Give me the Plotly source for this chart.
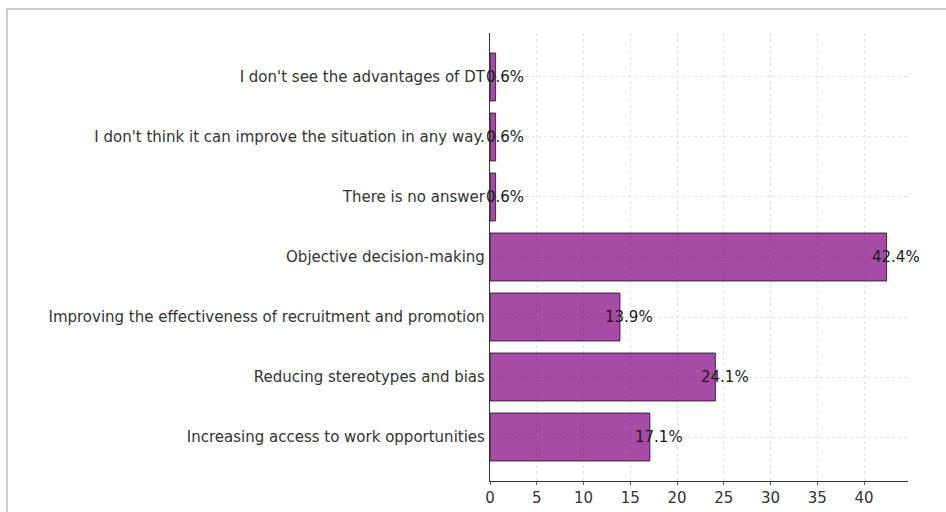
import plotly.graph_objects as go

categories = [
    "Increasing access to work opportunities",
    "Reducing stereotypes and bias",
    "Improving the effectiveness of recruitment and promotion",
    "Objective decision-making",
    "There is no answer",
    "I don't think it can improve the situation in any way.",
    "I don't see the advantages of DT",
]
values = [17.1, 24.1, 13.9, 42.4, 0.6, 0.6, 0.6]
x_ticks = [0, 5, 10, 15, 20, 25, 30, 35, 40]

FONT = "DejaVu Sans"

fig = go.Figure()
fig.add_trace(go.Bar(
    x=values,
    y=categories,
    orientation="h",
    width=0.8,
    marker=dict(color="rgba(128,0,128,0.7)",
                line=dict(color="rgba(0,0,0,0.7)", width=1)),
    hoverinfo="skip",
))

for v, c in zip(values, categories):
    fig.add_annotation(
        x=v + 1, y=c, text=f"{v}%", showarrow=False,
        xanchor="center", yanchor="middle",
        font=dict(family=FONT, size=15, color="#1a1a1a"),
    )

# outer frame
fig.add_shape(type="rect", xref="paper", yref="paper",
              x0=-1.1555, x1=1.2, y0=-0.2, y1=1.0536,
              line=dict(color="#bdbdbd", width=1.5), layer="below")

fig.update_layout(
    width=946, height=512,
    margin=dict(l=490, r=38, t=33, b=31, autoexpand=False),
    paper_bgcolor="white", plot_bgcolor="white",
    showlegend=False,
    font=dict(family=FONT, size=15, color="#333333"),
    bargap=0.2,
)
fig.update_xaxes(
    range=[0, 44.7],
    tickvals=x_ticks,
    automargin=False,
    showgrid=True, gridcolor="#e2e2e2", griddash="3px,3px", gridwidth=1,
    showline=True, linecolor="#333333", linewidth=1.2,
    ticks="outside", ticklen=3, tickcolor="#555555",
    tickfont=dict(family=FONT, size=15, color="#333333"),
    zeroline=False,
)
fig.update_yaxes(
    range=[-0.733, 6.733],
    automargin=False,
    showgrid=True, gridcolor="#e2e2e2", griddash="3px,3px", gridwidth=1,
    showline=True, linecolor="#333333", linewidth=1.2,
    ticks="", ticklabelstandoff=1,
    tickfont=dict(family=FONT, size=15, color="#333333"),
    zeroline=False,
)

fig.write_html("out.html")
